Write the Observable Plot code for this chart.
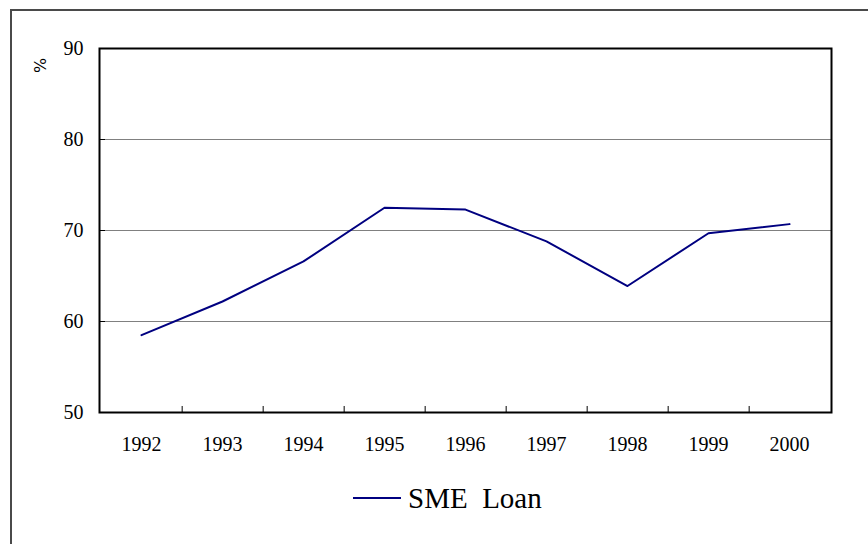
<!DOCTYPE html>
<html>
<head>
<meta charset="utf-8">
<script src="https://cdn.jsdelivr.net/npm/d3@7"></script>
<script src="https://cdn.jsdelivr.net/npm/@observablehq/plot@0.6"></script>
<style>
  html, body { margin: 0; padding: 0; background: #fff; width: 868px; height: 544px; overflow: hidden; }
  #frame { position: absolute; left: 10px; top: 9px; width: 1000px; height: 1000px; border-left: 2px solid #4a4a4a; border-top: 2px solid #4a4a4a; box-sizing: border-box; }
  #chart { position: absolute; left: 0; top: 0; }
  #chart > svg { overflow: visible; }
  #legend { display: flex; align-items: center; height: 60px; padding-left: 353px; font-family: "Liberation Serif", "Times New Roman", serif; font-size: 29px; color: #000; white-space: pre; }
  #legend svg { margin-right: 7px; }
</style>
</head>
<body>
<div id="frame"></div>
<div id="chart"></div>
<script>
const years = ["1992","1993","1994","1995","1996","1997","1998","1999","2000"];
const smeLoan = [58.5, 62.2, 66.6, 72.5, 72.3, 68.8, 63.9, 69.7, 70.7];
const yTicks = [50, 60, 70, 80, 90];
const gridValues = [60, 70, 80];
const seriesName = "SME  Loan";
const axisTitle = "%";

const data = years.map((y, i) => ({year: y, value: smeLoan[i]}));

const W = 868, mL = 99, mR = 37, mT = 48, mB = 56, H = 468;
const step = (W - mL - mR) / years.length;
const plotW = W - mL - mR;

const chart = Plot.plot({
  width: W,
  height: H,
  marginLeft: mL,
  marginRight: mR,
  marginTop: mT,
  marginBottom: mB,
  style: {fontFamily: "'Liberation Serif', 'Times New Roman', serif", background: "transparent", color: "#000", overflow: "visible"},
  x: {type: "point", domain: years, padding: 0.5, axis: null, label: null},
  y: {domain: [50, 90], axis: null, label: null},
  marks: [
    Plot.gridY(gridValues, {stroke: "#808080", strokeOpacity: 1, strokeWidth: 1}),
    Plot.ruleY(gridValues, {stroke: "#000", strokeWidth: 1, insetRight: plotW - 6}),
    Plot.ruleX(years.slice(0, -1), {dx: step / 2, y1: 50, y2: 50.66, stroke: "#000", strokeWidth: 1}),
    Plot.line(data, {x: "year", y: "value", stroke: "#000080", strokeWidth: 2}),
    Plot.frame({stroke: "#000", strokeWidth: 2}),
    Plot.axisY({ticks: yTicks, tickSize: 0, tickPadding: 16, fontSize: 20, label: null, tickFormat: d => String(d)}),
    Plot.axisX({tickSize: 0, tickPadding: 24, fontSize: 20, label: null}),
    Plot.text([axisTitle], {frameAnchor: "top-left", dx: -59, dy: 17, rotate: -90, fontSize: 16, fontFamily: "'DejaVu Sans', sans-serif", textAnchor: "middle", lineAnchor: "middle", fill: "#000"})
  ]
});

const container = document.getElementById("chart");
container.appendChild(chart);

const legend = document.createElement("div");
legend.id = "legend";
const sw = document.createElementNS("http://www.w3.org/2000/svg", "svg");
sw.setAttribute("width", 48);
sw.setAttribute("height", 10);
const ln = document.createElementNS("http://www.w3.org/2000/svg", "line");
ln.setAttribute("x1", 0); ln.setAttribute("x2", 48);
ln.setAttribute("y1", 5); ln.setAttribute("y2", 5);
ln.setAttribute("stroke", "#000080"); ln.setAttribute("stroke-width", 2);
sw.appendChild(ln);
legend.appendChild(sw);
const label = document.createElement("span");
label.textContent = seriesName;
legend.appendChild(label);
container.appendChild(legend);
</script>
</body>
</html>
